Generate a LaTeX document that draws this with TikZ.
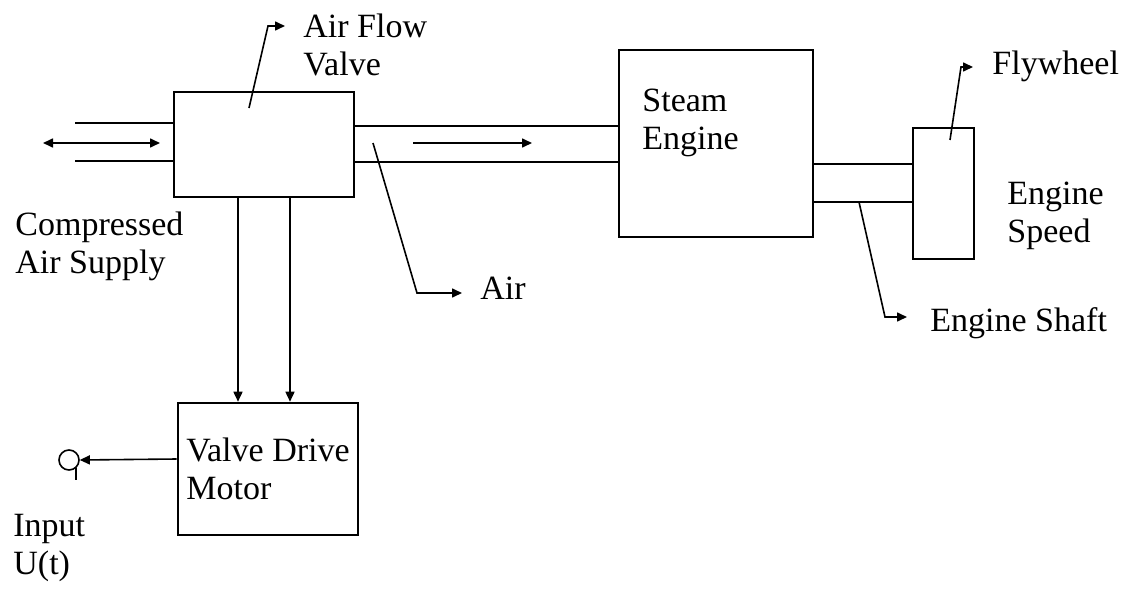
\documentclass[tikz,border=0pt]{standalone}
\usepackage{fontspec}
\setmainfont{Liberation Serif}
\usetikzlibrary{arrows.meta,positioning,calc}

\begin{document}
\begin{tikzpicture}[x=0.5pt,y=-0.5pt,
  every node/.style={font=\fontsize{17}{19}\selectfont},
  box/.style={draw,line width=1.3pt,inner sep=0pt},
  pipe/.style={line width=1pt},
  lead/.style={line width=0.8pt},
  lbl/.style={inner sep=0pt,align=left,anchor=north west},
  arr/.style={-{Triangle[length=5pt,width=4.5pt]}}]
\useasboundingbox (0,0) rectangle (1130,594);
% blocks
\node[box,minimum width=90pt,minimum height=52.5pt] (valve) at (264,144.5) {};
\node[box,minimum width=97pt,minimum height=93.5pt] (eng) at (716,143.5) {};
\node[box,minimum width=30.5pt,minimum height=65.5pt] (fly) at (943.5,193.5) {};
\node[box,minimum width=90pt,minimum height=66pt,align=left] (motor) at (268,469) {Valve Drive\\Motor};
\node[circle,draw,lead,minimum size=10pt,inner sep=0pt] (inp) at (69,460) {};
% labels
\node[lbl] (valvelbl) at (303,14) {Air Flow\\Valve};
\node[lbl] (complbl) at (15,212) {Compressed\\Air Supply};
\node[lbl] (englbl) at (642,89) {Steam\\Engine};
\node[lbl] (flylbl) at (992,51) {Flywheel};
\node[lbl] (spdlbl) at (1007,182) {Engine\\Speed};
\node[lbl] (shaftlbl) at (930,307) {Engine Shaft};
\node[lbl] (airlbl) at (480,277) {Air};
\node[lbl] (inplbl) at (13,514) {Input\\U(t)};
% pipes
\foreach \y in {123,161} \draw[pipe] (75,\y) -- (valve.west |- 0,\y);
\foreach \y in {126,162} \draw[pipe] (valve.east |- 0,\y) -- (eng.west |- 0,\y);
\foreach \y in {164,202} \draw[pipe] (eng.east |- 0,\y) -- (fly.west |- 0,\y);
\draw[lead,{Triangle[length=5pt,width=4.5pt]}-{Triangle[length=5pt,width=4.5pt]}] (43,143) -- (160,143);
\draw[lead,arr] (413,143) -- (532,143);
% valve drive
\foreach \x in {238,290} \draw[lead,arr] (valve.south -| \x,0) -- (motor.north -| \x,0);
\draw[lead,arr] (motor.west |- 0,459) -- (inp.east);
\draw[lead] (inp.-50) -- ++(0,12);
% leaders
\coordinate (vA) at (249,108); \coordinate (vB) at (268,26);
\draw[lead,arr,shorten >=9pt] (vA) -- (vB) -- (valvelbl.west |- vB);
\coordinate (aA) at (373,143); \coordinate (aB) at (417,293);
\draw[lead,arr,shorten >=9pt] (aA) -- (aB) -- (airlbl.west |- aB);
\coordinate (sA) at (859,202); \coordinate (sB) at (885,317);
\draw[lead,arr,shorten >=11.5pt] (sA) -- (sB) -- (shaftlbl.west |- sB);
\coordinate (fA) at (950,140); \coordinate (fB) at (961,67);
\draw[lead,arr,shorten >=9.5pt] (fA) -- (fB) -- (flylbl.west |- fB);
\end{tikzpicture}
\end{document}
